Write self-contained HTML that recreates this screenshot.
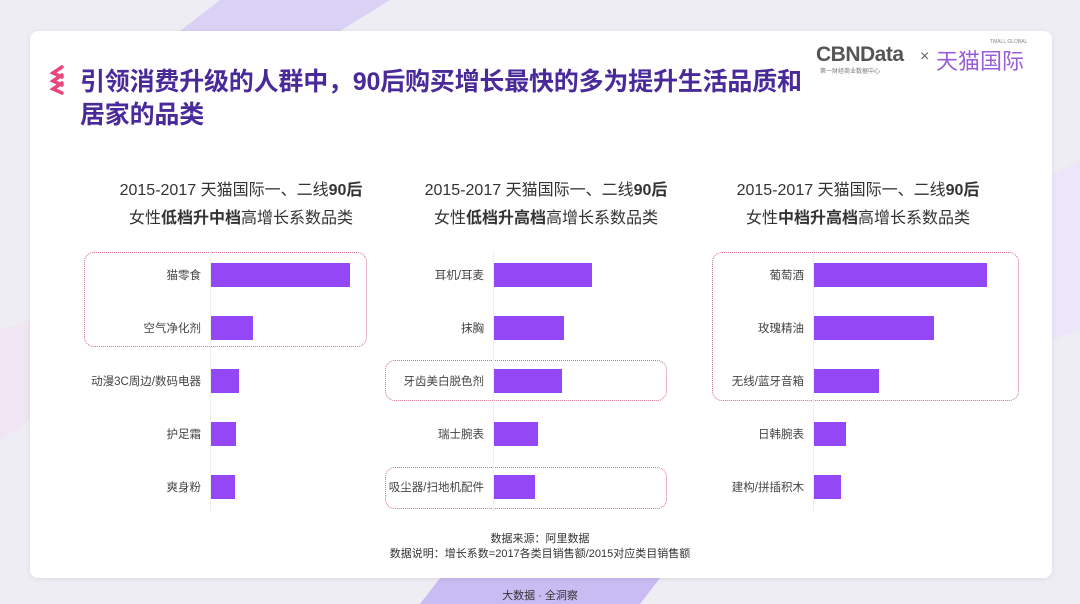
<!DOCTYPE html>
<html><head><meta charset="utf-8">
<style>
html,body{margin:0;padding:0}
body{width:1080px;height:604px;position:relative;overflow:hidden;background:#eeedf3;font-family:"Liberation Sans","Noto Sans CJK SC",sans-serif}
.abs{position:absolute}
#card{left:30px;top:31px;width:1022px;height:547px;background:#fff;border-radius:8px;box-shadow:0 1px 6px rgba(0,0,0,0.08)}
.title{left:80px;font-size:25px;font-weight:bold;color:#4a2a9a;letter-spacing:-0.2px;white-space:nowrap}
.ct{font-size:16px;color:#333;text-align:center;width:340px;line-height:28px}
.lbl{font-size:11.5px;color:#444;text-align:right;width:200px;white-space:nowrap}
.bar{background:#9347f5}
.box{border:1.5px dotted #d26a8e;border-radius:10px;box-sizing:border-box}
.note{font-size:11px;color:#333;text-align:center;width:1080px;left:0}
</style></head><body>
<svg class="abs" style="left:0;top:0" width="1080" height="604">
<polygon points="220,0 390,0 340,31 180,31" fill="#d9d2f4"/>
<polygon points="940,230 1080,160 1080,330 1052,340" fill="#ece6fb"/>
<polygon points="0,330 30,320 30,420 0,440" fill="#f0e5f2"/>
<polygon points="440,578 660,578 640,604 420,604" fill="#c8bcf2"/>
</svg>
<div id="card" class="abs"></div>
<svg class="abs" style="left:48px;top:64px" width="24" height="32">
<g stroke="#e8467c" stroke-width="3.5" fill="none" stroke-linecap="round">
<polyline points="14,3 5,9 14,13"/><polyline points="14,11 5,17 14,21"/><polyline points="14,19 5,25 14,29"/></g></svg>
<div class="abs title" style="top:62px">引领消费升级的人群中，90后购买增长最快的多为提升生活品质和</div>
<div class="abs title" style="top:95px">居家的品类</div>
<div class="abs" style="left:816px;top:43px;font-size:21px;font-weight:bold;color:#555;letter-spacing:-0.5px">CBNData</div>
<div class="abs" style="left:820px;top:66px;font-size:6px;color:#777">第一财经商业数据中心</div>
<div class="abs" style="left:920px;top:48px;font-size:16px;color:#666">×</div>
<div class="abs" style="left:936px;top:44px;font-size:22px;color:#9a5cd8">天猫国际</div>
<div class="abs" style="left:990px;top:39px;font-size:5px;color:#888">TMALL GLOBAL</div>
<div id="charts"></div>
<div class="abs note" style="top:530px">数据来源：阿里数据</div>
<div class="abs note" style="top:545px">数据说明：增长系数=2017各类目销售额/2015对应类目销售额</div>
<div class="abs note" style="top:587px;color:#333">大数据 · 全洞察</div>
<script>
const cats1=["猫零食","空气净化剂","动漫3C周边/数码电器","护足霜","爽身粉"];
const vals1=[13.9,4.2,2.8,2.5,2.4];
const cats2=["耳机/耳麦","抹胸","牙齿美白脱色剂","瑞士腕表","吸尘器/扫地机配件"];
const vals2=[9.8,7.0,6.8,4.4,4.1];
const cats3=["葡萄酒","玫瑰精油","无线/蓝牙音箱","日韩腕表","建构/拼插积木"];
const vals3=[17.3,12.0,6.5,3.2,2.7];
const titles=[["2015-2017 天猫国际一、二线<b>90后</b>","女性<b>低档升中档</b>高增长系数品类"],["2015-2017 天猫国际一、二线<b>90后</b>","女性<b>低档升高档</b>高增长系数品类"],["2015-2017 天猫国际一、二线<b>90后</b>","女性<b>中档升高档</b>高增长系数品类"]];
const charts=[{c:cats1,v:vals1,ax:211,tx:71,boxes:[[84,252,283,95]]},{c:cats2,v:vals2,ax:494,tx:376,boxes:[[385,360,282,41],[385,467,282,42]]},{c:cats3,v:vals3,ax:814,tx:688,boxes:[[712,252,307,149]]}];
const pxPerUnit=10,y0=275,step=53,bh=24;
function xs(v){return v*pxPerUnit;}
function ys(i){return y0+i*step;}
const root=document.getElementById('charts');
charts.forEach((ch,k)=>{
  const t=document.createElement('div');t.className='abs ct';t.style.left=ch.tx+'px';t.style.top='177px';
  t.innerHTML=titles[k][0]+'<br>'+titles[k][1];
  
  
  root.appendChild(t);
  ch.boxes.forEach(b=>{const d=document.createElement('div');d.className='abs box';
    d.style.cssText+=`left:${b[0]}px;top:${b[1]}px;width:${b[2]}px;height:${b[3]}px`;
    
    
    root.appendChild(d);});
  const ax=document.createElement('div');ax.className='abs';ax.style.cssText=`left:${ch.ax-1}px;top:250px;width:1px;height:262px;background:#eee`;
  
  
  root.appendChild(ax);
  ch.c.forEach((c,i)=>{
    const l=document.createElement('div');l.className='abs lbl';l.textContent=c;
    l.style.left=(ch.ax-10-200)+'px';l.style.top=(ys(i)-8)+'px';
    
    
    root.appendChild(l);
    const b=document.createElement('div');b.className='abs bar';
    b.style.left=ch.ax+'px';b.style.top=(ys(i)-bh/2)+'px';b.style.width=xs(ch.v[i])+'px';b.style.height=bh+'px';
    
    
    root.appendChild(b);
  });
});
</script>
</body></html>
